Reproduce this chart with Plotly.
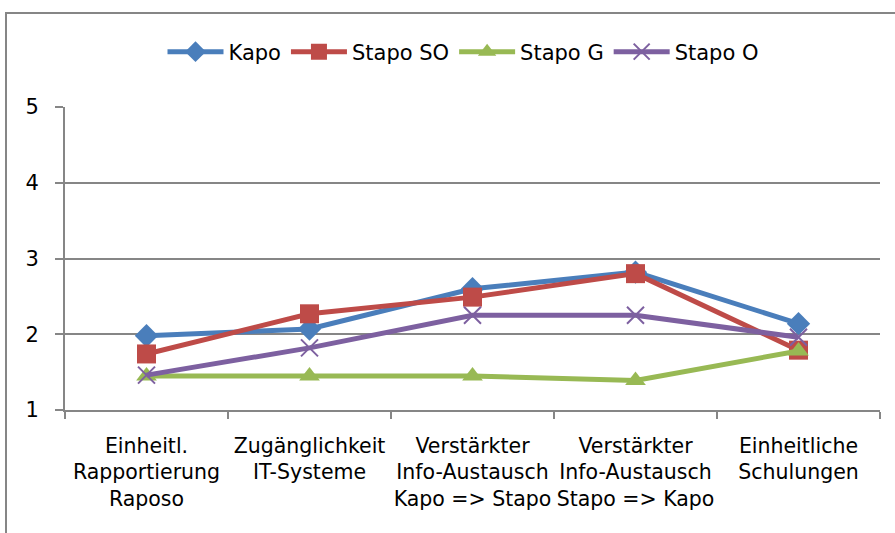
import plotly.graph_objects as go

categories = [
    "Einheitl.<br>Rapportierung<br>Raposo",
    "Zugänglichkeit<br>IT-Systeme",
    "Verstärkter<br>Info-Austausch<br>Kapo => Stapo",
    "Verstärkter<br>Info-Austausch<br>Stapo => Kapo",
    "Einheitliche<br>Schulungen",
]
kapo = [1.98, 2.07, 2.6, 2.82, 2.14]
stapo_so = [1.74, 2.27, 2.49, 2.8, 1.79]
stapo_g = [1.45, 1.45, 1.45, 1.39, 1.78]
stapo_o = [1.46, 1.82, 2.25, 2.25, 1.96]
y_ticks = [1, 2, 3, 4, 5]

series = [
    ("Kapo", kapo, "#4A7EBB", "diamond", 18),
    ("Stapo SO", stapo_so, "#BE4B48", "square", 19),
    ("Stapo G", stapo_g, "#98B954", "triangle-up", 18),
    ("Stapo O", stapo_o, "#7D60A0", "x-thin", 17),
]

FONT = "DejaVu Sans, sans-serif"
FS = 21

fig = go.Figure()
for name, vals, col, sym, size in series:
    marker = dict(symbol=sym, size=size, color=col)
    if sym == "x-thin":
        marker["line"] = dict(color=col, width=2)
    fig.add_trace(go.Scatter(
        x=categories, y=vals, name=name, mode="lines+markers",
        line=dict(color=col, width=5), marker=marker,
    ))

W, H = 895, 533
L, R, T, B = 65, 15, 107, 123
pw, ph = W - L - R, H - T - B

def px2paper_x(px):
    return (px - L) / pw

def px2paper_y(py):
    return (H - B - py) / ph

fig.add_shape(type="rect", xref="paper", yref="paper",
              x0=px2paper_x(6), x1=px2paper_x(905),
              y0=px2paper_y(545), y1=px2paper_y(13),
              line=dict(color="#868686", width=2), layer="below")

fig.update_layout(
    width=W, height=H,
    margin=dict(l=L, r=R, t=T, b=B, autoexpand=False),
    paper_bgcolor="white", plot_bgcolor="white",
    font=dict(family=FONT, size=FS, color="black"),
    showlegend=True,
    legend=dict(orientation="h", x=px2paper_x(463), xanchor="center", y=px2paper_y(52), yanchor="middle",
                font=dict(size=FS), itemwidth=56, entrywidth=0, tracegroupgap=0,
                bgcolor="rgba(0,0,0,0)"),
    xaxis=dict(
        range=[-0.5, len(categories) - 0.5], autorange=False,
        showgrid=False, showline=True, linecolor="#868686", linewidth=2,
        ticks="outside", tickson="boundaries", ticklen=7, tickcolor="#868686", tickwidth=1.5,
        tickfont=dict(size=20.5), tickangle=0, ticklabelstandoff=16,
    ),
    yaxis=dict(
        range=[1, 5], tickvals=y_ticks, showgrid=True, gridcolor="#868686", gridwidth=1.5,
        showline=True, linecolor="#868686", linewidth=2,
        ticks="outside", ticklen=8, tickcolor="#868686", tickwidth=1.5,
        tickfont=dict(size=FS), zeroline=False, ticklabelstandoff=12,
    ),
)

fig.write_html("out.html", config={"displayModeBar": False},
               post_script="document.body.style.margin='0';")
